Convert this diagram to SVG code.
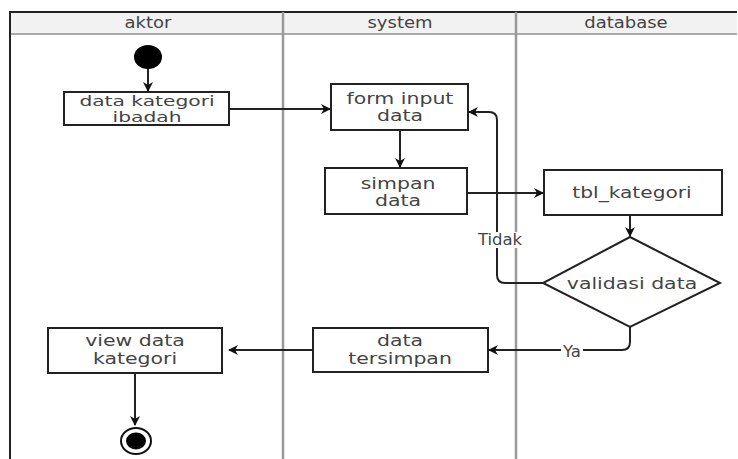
<svg xmlns="http://www.w3.org/2000/svg" width="738" height="459" viewBox="0 0 738 459">
<defs>
<style>
.lane{fill:none;stroke:#999;stroke-width:2.5}
.frame{fill:none;stroke:#222;stroke-width:2}
.hdr{fill:#f2f2f2;stroke:none}
.box{fill:#fff;stroke:#222;stroke-width:2}
.edge{fill:none;stroke:#222;stroke-width:2}
.t{font-family:"DejaVu Sans",Verdana,sans-serif;font-size:15.5px;fill:#444;text-anchor:middle}
.s{font-family:"DejaVu Sans",Verdana,sans-serif;font-size:13.5px;fill:#444;text-anchor:middle}
.h{font-family:"DejaVu Sans",Verdana,sans-serif;font-size:15px;fill:#444;text-anchor:middle}
.lbl{fill:#fff;stroke:none}
</style>
<marker id="ah" viewBox="0 0 10 10" refX="9" refY="5" markerWidth="10" markerHeight="10" markerUnits="userSpaceOnUse" orient="auto">
<path d="M0,0 L10,5 L0,10 L3,5 Z" fill="#111"/>
</marker>
</defs>
<rect width="738" height="459" fill="#fff"/>
<g id="swimlanes">
<rect class="hdr" x="10" y="12" width="727" height="22"/>
<line x1="10" y1="34" x2="737" y2="34" stroke="#aaa" stroke-width="2"/>
<line class="frame" x1="10" y1="12" x2="737" y2="12"/>
<line class="frame" x1="10" y1="11" x2="10" y2="459"/>
<line class="lane" x1="283" y1="12" x2="283" y2="459"/>
<line class="lane" x1="516" y1="12" x2="516" y2="459"/>
<text class="h" transform="translate(148,28) scale(1.2 1)">aktor</text>
<text class="h" transform="translate(400,28) scale(1.2 1)">system</text>
<text class="h" transform="translate(626,28) scale(1.2 1)">database</text>
</g>
<g id="connectors">
<path class="edge" d="M148,69 V91" marker-end="url(#ah)"/>
<path class="edge" d="M229,109 H330" marker-end="url(#ah)"/>
<path class="edge" d="M400,130 V167" marker-end="url(#ah)"/>
<path class="edge" d="M467,193 H543" marker-end="url(#ah)"/>
<path class="edge" d="M630,215 V236" marker-end="url(#ah)"/>
<path class="edge" d="M543,283 H505 Q497,283 497,275 V120 Q497,112 489,112 H469" marker-end="url(#ah)"/>
<path class="edge" d="M630,327 V342 Q630,350 622,350 H489" marker-end="url(#ah)"/>
<path class="edge" d="M313,350 H229" marker-end="url(#ah)"/>
<path class="edge" d="M135,373 V425" marker-end="url(#ah)"/>
<rect class="lbl" x="477" y="232" width="46" height="16"/>
<text class="h" transform="translate(500,245) scale(1.1 1)">Tidak</text>
<rect class="lbl" x="561" y="344" width="22" height="16"/>
<text class="h" transform="translate(572,357) scale(1.1 1)">Ya</text>
</g>
<g id="start"><ellipse cx="148" cy="57" rx="14" ry="12" fill="#000"/></g>
<g id="data-kategori-ibadah">
<rect class="box" x="64" y="92" width="165" height="33"/>
<text class="s" transform="translate(147,106) scale(1.5 1)">data kategori</text>
<text class="s" transform="translate(147,121.5) scale(1.5 1)">ibadah</text>
</g>
<g id="form-input-data">
<rect class="box" x="331" y="84" width="137" height="46"/>
<text class="t" transform="translate(400,104) scale(1.32 1)">form input</text>
<text class="t" transform="translate(400,121) scale(1.32 1)">data</text>
</g>
<g id="simpan-data">
<rect class="box" x="325" y="168" width="142" height="46"/>
<text class="t" transform="translate(398,189) scale(1.32 1)">simpan</text>
<text class="t" transform="translate(398,206) scale(1.32 1)">data</text>
</g>
<g id="tbl-kategori">
<rect class="box" x="544" y="170" width="178" height="45"/>
<text class="t" transform="translate(632,198) scale(1.3 1)">tbl_kategori</text>
</g>
<g id="validasi-data">
<polygon class="box" points="630,237 720,283 630,327 543,283"/>
<text class="t" transform="translate(632,289) scale(1.32 1)">validasi data</text>
</g>
<g id="data-tersimpan">
<rect class="box" x="313" y="328" width="175" height="44"/>
<text class="t" transform="translate(400,346) scale(1.32 1)">data</text>
<text class="t" transform="translate(400,364) scale(1.32 1)">tersimpan</text>
</g>
<g id="view-data-kategori">
<rect class="box" x="48" y="328" width="174" height="45"/>
<text class="t" transform="translate(135,346) scale(1.32 1)">view data</text>
<text class="t" transform="translate(135,364) scale(1.32 1)">kategori</text>
</g>
<g id="end">
<ellipse cx="136" cy="441" rx="15" ry="13" fill="#fff" stroke="#111" stroke-width="2"/>
<ellipse cx="136" cy="441" rx="10" ry="8.5" fill="#000"/>
</g>
</svg>
